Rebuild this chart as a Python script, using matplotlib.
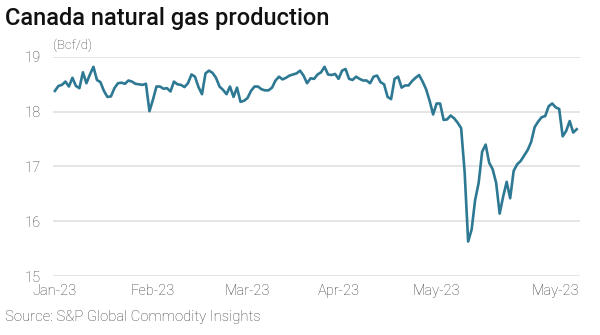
import matplotlib
matplotlib.use("Agg")
from matplotlib import pyplot as plt

# daily production, Bcf/d
production = [
    18.38, 18.47, 18.49, 18.55, 18.46, 18.62, 18.47, 18.43, 18.72, 18.52,
    18.68, 18.82, 18.58, 18.54, 18.38, 18.27, 18.28, 18.43, 18.52, 18.53,
    18.51, 18.57, 18.55, 18.51, 18.50, 18.49, 18.51, 18.01, 18.22, 18.46,
    18.46, 18.42, 18.43, 18.37, 18.55, 18.50, 18.49, 18.45, 18.52, 18.68,
    18.64, 18.45, 18.32, 18.70, 18.75, 18.71, 18.62, 18.46, 18.40, 18.32,
    18.46, 18.27, 18.44, 18.18, 18.20, 18.25, 18.38, 18.46, 18.46, 18.41,
    18.39, 18.39, 18.44, 18.57, 18.64, 18.59, 18.62, 18.66, 18.68, 18.70,
    18.75, 18.66, 18.52, 18.61, 18.60, 18.68, 18.72, 18.82, 18.68, 18.67,
    18.69, 18.60, 18.75, 18.78, 18.60, 18.58, 18.64, 18.60, 18.57, 18.57,
    18.52, 18.64, 18.66, 18.54, 18.50, 18.27, 18.23, 18.60, 18.64, 18.44,
    18.48, 18.48, 18.56, 18.62, 18.67, 18.55, 18.41, 18.20, 17.95, 18.15,
    18.15, 17.85, 17.86, 17.93, 17.88, 17.80, 17.70, 16.90, 15.63, 15.85,
    16.39, 16.70, 17.27, 17.40, 17.07, 16.95, 16.70, 16.14, 16.45, 16.72,
    16.42, 16.92, 17.04, 17.10, 17.20, 17.30, 17.45, 17.72, 17.82, 17.90,
    17.92, 18.10, 18.15, 18.08, 18.05, 17.55, 17.65, 17.83, 17.62, 17.68,
]
tick_idx = [0, 28, 55, 81, 109, 143]
tick_labels = ["Jan-23", "Feb-23", "Mar-23", "Apr-23", "May-23", "May-23"]
y_ticks = [15, 16, 17, 18, 19]

plt.rcParams["font.family"] = ["Roboto", "DejaVu Sans"]
gray = "#3c3c3c"

fig = plt.figure(figsize=(6, 3.35), dpi=100)
ax = fig.add_axes([0.088, 0.176, 0.879, 0.654])

ax.plot(range(len(production)), production, color="#2d7892", lw=1.9,
        solid_joinstyle="round", clip_on=False, zorder=3)

ax.set_xlim(-0.6, 150)
ax.set_ylim(15, 19)
ax.set_yticks(y_ticks)
ax.set_xticks(tick_idx)
ax.set_xticklabels(tick_labels)
ax.grid(axis="y", color="#e3e3e3", lw=1.3)
ax.set_axisbelow(True)
for s in ax.spines.values():
    s.set_visible(False)
ax.tick_params(length=0, labelsize=10.5, colors=gray)
ax.tick_params(axis="y", pad=9)
ax.tick_params(axis="x", pad=6)
for lab in ax.get_xticklabels() + ax.get_yticklabels():
    lab.set_fontweight("light")

fig.text(0.008, 0.945, "Canada natural gas production", fontsize=17,
         fontweight="medium", color="#111111", va="center")
fig.text(0.088, 0.865, "(Bcf/d)", fontsize=9.5, color=gray, va="center",
         fontweight="light")
fig.text(0.008, 0.055, "Source: S&P Global Commodity Insights",
         fontsize=10.7, color=gray, va="center", fontweight="light")

fig.savefig("out.png", dpi=100)
